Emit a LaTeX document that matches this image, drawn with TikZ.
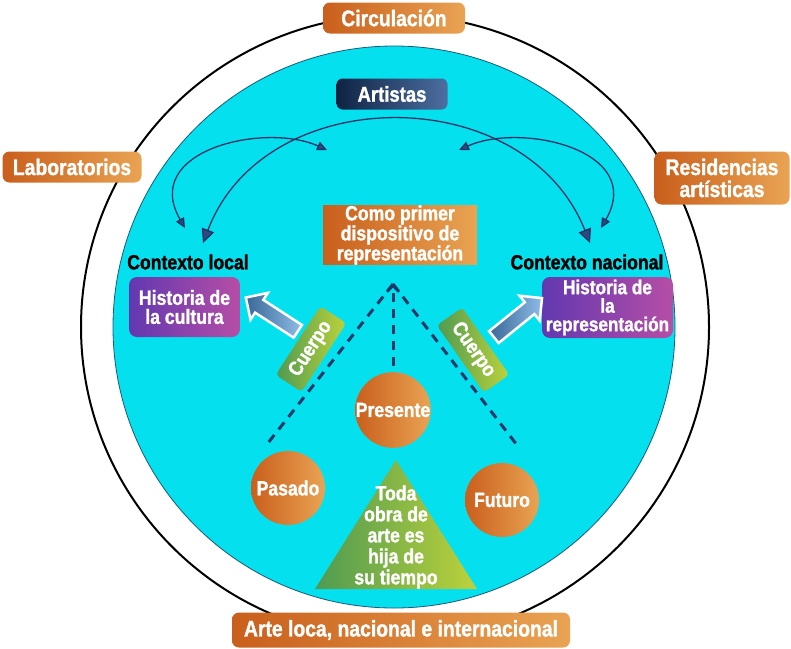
\documentclass[tikz,border=0pt]{standalone}
\usepackage{fontspec}
\setmainfont{Liberation Sans}[FakeStretch=0.86, BoldFeatures={FakeBold=1.3}]
\usetikzlibrary{arrows.meta,shapes.arrows}
\definecolor{orD}{HTML}{C95F1C}
\definecolor{orL}{HTML}{E9A353}
\definecolor{cyanC}{HTML}{05E0EE}
\definecolor{rimC}{HTML}{1B5A78}
\definecolor{navyD}{HTML}{0F2444}
\definecolor{navyL}{HTML}{4C6EA0}
\definecolor{purD}{HTML}{6238B0}
\definecolor{purL}{HTML}{B64EA6}
\definecolor{grD}{HTML}{4E9A52}
\definecolor{grL}{HTML}{BDD23A}
\definecolor{lineC}{HTML}{1E3466}
\definecolor{tipC}{HTML}{2C4A80}
\definecolor{dashC}{HTML}{1A3A6A}
\definecolor{arD}{HTML}{3A6898}
\definecolor{arL}{HTML}{8EBCE6}
\tikzset{
  obox/.style={rounded corners=7pt, left color=orD, right color=orL, text=white,
    font=\bfseries\fontsize{22.5}{22}\selectfont, align=center, inner sep=0pt},
  pbox/.style={rounded corners=8pt, left color=purD, right color=purL, text=white,
    font=\bfseries\fontsize{20.5}{19}\selectfont, align=center, inner sep=0pt},
  ctx/.style={text=black, font=\bfseries\fontsize{20.5}{20}\selectfont, inner sep=0pt},
  ball/.style={circle, minimum size=74pt, inner sep=0pt, left color=orD, right color=orL,
    text=white, font=\bfseries\fontsize{20.5}{20}\selectfont},
  gbox/.style={rounded corners=4pt, left color=grD, right color=grL, text=white,
    minimum width=82pt, minimum height=31pt, inner sep=0pt,
    font=\bfseries\fontsize{20.5}{20}\selectfont},
  barrow/.style={single arrow, draw=white, line width=2.5pt, minimum height=62pt,
    minimum width=32pt, inner sep=6pt, single arrow head extend=8pt,
    left color=arD, right color=arL},
  arcline/.style={draw=lineC, line width=1.3pt},
  dline/.style={draw=dashC, line width=3pt, dash pattern=on 9pt off 7pt},
}
\begin{document}
\begin{tikzpicture}[x=1pt,y=-1pt]
\useasboundingbox (0,0) rectangle (791,648);
% outer ring
\draw[line width=2pt, black] (395,327) ellipse [x radius=314pt, y radius=312pt];
% inner disc
\draw[draw=rimC, line width=0.8pt, fill=cyanC] (394,327) circle [radius=281pt];

% curved arrows
\draw[arcline, {Triangle[length=10pt,width=9pt,fill=tipC]}-{Triangle[length=10pt,width=9pt,fill=tipC]}]
  (185,228) .. controls (140,150) and (265,122) .. (327,150);
\draw[arcline, {Triangle[length=10pt,width=9pt,fill=tipC]}-{Triangle[length=10pt,width=9pt,fill=tipC]}]
  (459,150) .. controls (521,122) and (646,150) .. (601,228);
\draw[arcline, {Triangle[length=14pt,width=13pt,fill=tipC]}-{Triangle[length=14pt,width=13pt,fill=tipC]}]
  (203,243) .. controls (265,80) and (525,80) .. (590,243);

% dashed lines
\coordinate (apex) at (393,284);
\coordinate (dL) at (268,443);
\coordinate (dM) at (393,366);
\coordinate (dR) at (517,445);
\draw[dline] (apex) -- (dL);
\draw[dline] (apex) -- (dR);
\draw[dline, -{Straight Barb[length=6pt,width=12pt,line width=2.5pt]}] (dM) -- (apex);

% outer labels
\node[obox, minimum width=142pt, minimum height=31pt] (circ) at (394,18) {Circulación};
\node[obox, minimum width=139pt, minimum height=31pt] (lab) at (72,167) {Laboratorios};
\node[obox, minimum width=135pt, minimum height=53pt] (res) at (722,178) {Residencias\\artísticas};
\node[obox, minimum width=338pt, minimum height=35pt] (arte) at (401,630) {Arte loca, nacional e internacional};

% Artistas
\node[rounded corners=6pt, left color=navyD, right color=navyL, text=white,
  font=\bfseries\fontsize{21.5}{21}\selectfont, minimum width=111pt, minimum height=31pt, inner sep=0pt]
  (art) at (392,94) {Artistas};

% Como primer dispositivo
\node[left color=orD, right color=orL, text=white, align=center, inner sep=0pt,
  minimum width=154pt, minimum height=57pt, font=\bfseries\fontsize{20.5}{20}\selectfont]
  (como) at (400,235) {Como primer\\dispositivo de\\representación};

% contexts
\node[ctx] (cl) at (188,262) {Contexto local};
\node[ctx] (cn) at (587,262) {Contexto nacional};
\node[pbox, minimum width=111pt, minimum height=60pt] (hc) at (184.5,307) {Historia de\\la cultura};
\node[pbox, minimum width=131pt, minimum height=61pt, font=\bfseries\fontsize{20}{18.5}\selectfont]
  (hr) at (607.5,307.5) {Historia de\\la\\representación};

% block arrows
\node[barrow, rotate=147] (aL) at (275,316.5) {};
\node[barrow, rotate=39] (aR) at (515,320) {};

% Cuerpo labels
\node[gbox, rotate=57] (cuL) at (311,349) {Cuerpo};
\node[gbox, rotate=-55] (cuR) at (473,350) {Cuerpo};

% time circles
\node[ball] (pres) at (393,410) {Presente};
\node[ball] (pas) at (288,488) {Pasado};
\node[ball] (fut) at (502,500) {Futuro};

% triangle
\shade[left color=grD, right color=grL] (396,460) -- (477,589) -- (315,589) -- cycle;
\node[text=white, align=center, inner sep=0pt, font=\bfseries\fontsize{20.5}{21}\selectfont]
  (toda) at (396,537) {Toda\\obra de\\arte es\\hija de\\su tiempo};
\end{tikzpicture}
\end{document}
